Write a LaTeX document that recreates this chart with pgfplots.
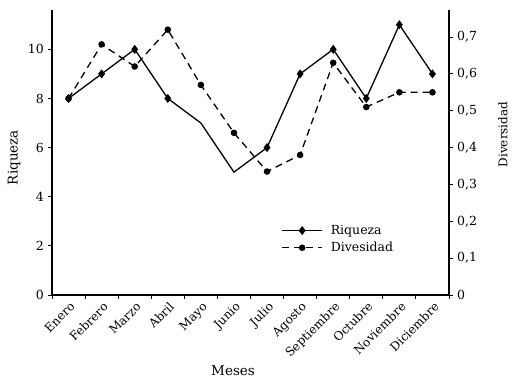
\documentclass[border=0pt]{standalone}
\usepackage{pgfplots}
\pgfplotsset{compat=1.18}
\usepackage{fontspec}
\setmainfont{DejaVu Serif}
\begin{document}
\fontsize{12}{14}\selectfont
\begin{tikzpicture}
\pgfplotsset{
  common/.style={
    width=397pt, height=285pt, scale only axis,
    at={(0,0)}, anchor=south west,
    xmin=-0.5, xmax=11.5,
    /pgf/number format/assume math mode=true,
    /pgf/number format/use comma,
    tick align=outside,
    every tick/.style={black, line width=1pt},
    axis line style={line width=1.3pt},
    tick label style={font=\fontsize{12.5}{14}\selectfont},
  }
}
\begin{axis}[common,
  axis x line*=bottom, axis y line*=left,
  ymin=0, ymax=11.6,
  ytick={0,2,4,6,8,10},
  xtick={0,...,11},
  xticklabels={Enero,Febrero,Marzo,Abril,Mayo,Junio,Julio,Agosto,Septiembre,Octubre,Noviembre,Diciembre},
  major x tick style={draw=none},
  minor xtick={-0.5,0.5,...,11.5},
  minor tick length=4pt,
  major tick length=4pt,
  x tick label style={rotate=45, anchor=north east, inner sep=1pt, yshift=-1pt, font=\fontsize{12}{14}\selectfont},
  xlabel={Meses},
  xlabel style={at={(axis description cs:0.456,-0.265)}, anchor=center, font=\fontsize{13.5}{15}\selectfont},
  ylabel={Riqueza},
  ylabel style={at={(axis description cs:-0.0957,0.482)}, anchor=center, font=\fontsize{13.5}{15}\selectfont},
  clip=false,
]
\addplot[black, line width=1.3pt, mark=diamond*, mark size=3.5pt,
  mark indices={1,2,3,4,7,8,9,10,11,12}]
  coordinates {(0,8) (1,9) (2,10) (3,8) (4,7) (5,5) (6,6) (7,9) (8,10) (9,8) (10,11) (11,9)};
\end{axis}
\begin{axis}[common,
  axis x line=none, axis y line*=right,
  ymin=0, ymax=0.7733,
  ytick={0,0.1,0.2,0.3,0.4,0.5,0.6,0.7},
  yticklabel style={/pgf/number format/fixed, /pgf/number format/precision=1},
  ylabel={Diversidad},
  ylabel style={at={(axis description cs:1.136,0.563)}, anchor=center, font=\fontsize{12}{14}\selectfont},
  major tick length=4pt,
  legend style={draw=none, fill=none, at={(axis description cs:0.57,0.26)}, anchor=north west,
    font=\fontsize{12.5}{14}\selectfont, row sep=2pt,
    /tikz/every odd column/.append style={column sep=6pt}},
  legend cell align=left,
  legend image code/.code={
    \draw[#1, mark repeat=2, mark phase=2] plot coordinates {(0pt,0pt) (20pt,0pt) (40pt,0pt)};
  },
]
\addlegendimage{black, line width=1.3pt, mark=diamond*, mark size=3.5pt}
\addlegendentry{Riqueza}
\addplot[black, line width=1.3pt, dash pattern=on 7pt off 5pt, mark=*, mark size=2.6pt, mark options={solid}]
  coordinates {(0,0.533) (1,0.68) (2,0.62) (3,0.72) (4,0.57) (5,0.44) (6,0.335) (7,0.38) (8,0.63) (9,0.51) (10,0.55) (11,0.55)};
\addlegendentry{Divesidad}
\end{axis}
\pgfresetboundingbox
\path[use as bounding box] (-52pt,-83pt) rectangle (461pt,295pt);
\end{tikzpicture}
\end{document}
